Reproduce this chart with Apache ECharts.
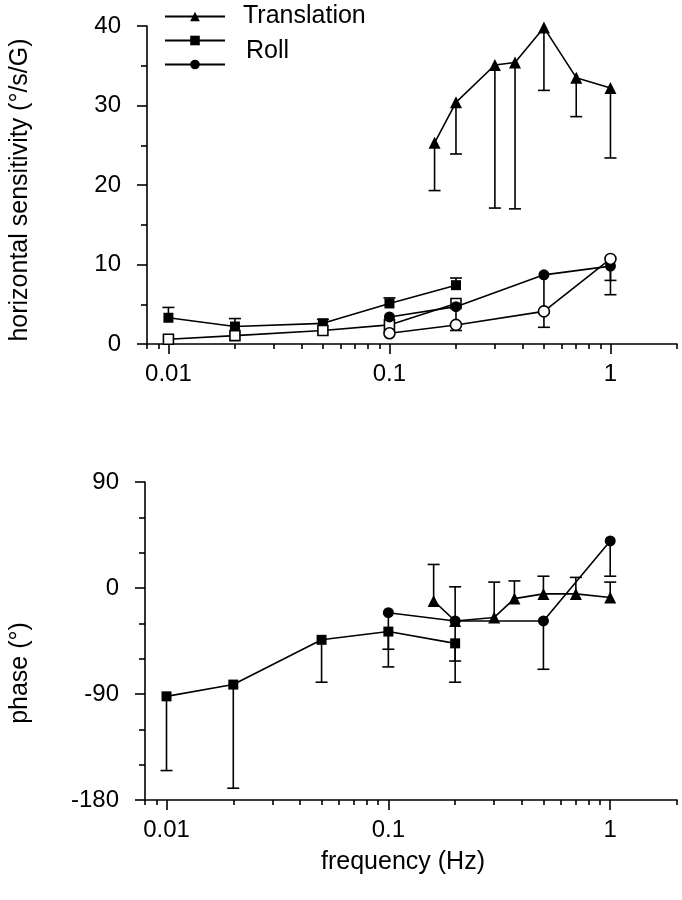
<!DOCTYPE html>
<html><head><meta charset="utf-8">
<script src="https://cdn.jsdelivr.net/npm/echarts@6/dist/echarts.min.js"></script>
<style>html,body{margin:0;padding:0;background:#fff}#c{width:682px;height:900px}</style>
</head><body><div id="c"></div>
<script>
// ---- axis ticks ----
const xTickValues = [0.01, 0.1, 1];
const xTickLabels = ['0.01', '0.1', '1'];
const xMinorTicks = [0.008, 0.009, 0.02, 0.03, 0.04, 0.05, 0.06, 0.07, 0.08, 0.09,
  0.2, 0.3, 0.4, 0.5, 0.6, 0.7, 0.8, 0.9, 2];
const xMin = 0.008, xMax = 2;

// ---- top panel: horizontal sensitivity ----
const transFreq = [0.16, 0.2, 0.3, 0.37, 0.5, 0.7, 1];
const transGain = [25.3, 30.4, 35.1, 35.4, 39.8, 33.5, 32.2];
const transGainLow = [19.3, 23.9, 17.1, 17.0, 31.9, 28.6, 23.4];

const rollFreq = [0.01, 0.02, 0.05, 0.1, 0.2];
const rollGain = [3.3, 2.2, 2.6, 5.1, 7.4];
const rollGainHigh = [4.6, 3.2, 3.1, 5.8, 8.3];
const rollOpenGain = [0.6, 1.05, 1.7, 2.4, 5.1];

const circFreq = [0.1, 0.2, 0.5, 1];
const circGain = [3.4, 4.7, 8.7, 9.8];
const circGainLow = [null, 1.7, 2.1, 6.2];
const circOpenGain = [1.35, 2.4, 4.1, 10.7];
const circOpenGainLow = [null, null, null, 8.0];

// ---- bottom panel: phase ----
const transPhase = [-11, -28, -25, -9, -5, -5, -8];
const transPhaseHigh = [20, 1, 5, 6, 10, 9, 5];
const rollPhase = [-92, -82, -44, -37, -47];
const rollPhaseLow = [-155, -170, -80, -52, -80];
const circPhase = [-21, -28, -28, 40];
const circPhaseLow = [-67, -62, -69, 10];

const FONT = '"Liberation Sans", Arial, Helvetica, sans-serif';
const BLACK = '#000';
const LW = 1.6;
const L = Math.log10;

function pts(f, v) { return f.map((x, i) => [L(x), v[i]]); }
function errs(f, v, lo, hi) {
  const out = [];
  f.forEach((x, i) => {
    const l = lo ? lo[i] : null, h = hi ? hi[i] : null;
    if (l == null && h == null) return;
    out.push([L(x), l == null ? v[i] : l, h == null ? v[i] : h, l == null ? 0 : 1, h == null ? 0 : 1]);
  });
  return out;
}
function errRender(params, api) {
  const x = api.value(0);
  const p1 = api.coord([x, api.value(1)]), p2 = api.coord([x, api.value(2)]);
  const w = 6, st = { stroke: BLACK, lineWidth: LW };
  const ch = [{ type: 'line', shape: { x1: p1[0], y1: p1[1], x2: p2[0], y2: p2[1] }, style: st }];
  if (api.value(3)) ch.push({ type: 'line', shape: { x1: p1[0] - w, y1: p1[1], x2: p1[0] + w, y2: p1[1] }, style: st });
  if (api.value(4)) ch.push({ type: 'line', shape: { x1: p2[0] - w, y1: p2[1], x2: p2[0] + w, y2: p2[1] }, style: st });
  return { type: 'group', children: ch };
}

function xMajor(g, withName) {
  const a = {
    type: 'value', gridIndex: g, min: L(xMin), max: L(xMax), position: 'bottom',
    axisLine: { show: true, onZero: false, lineStyle: { color: BLACK, width: LW } },
    axisTick: { show: true, customValues: xTickValues.map(L), length: 10, lineStyle: { color: BLACK, width: LW } },
    axisLabel: {
      customValues: xTickValues.map(L), margin: 18, fontSize: 24, color: BLACK, fontFamily: FONT,
      formatter: v => { const i = xTickValues.findIndex(t => Math.abs(L(t) - v) < 1e-6); return i >= 0 ? xTickLabels[i] : ''; }
    },
    splitLine: { show: false }
  };
  if (withName) {
    a.name = 'frequency (Hz)'; a.nameLocation = 'middle'; a.nameGap = 50;
    a.nameTextStyle = { fontSize: 25, color: BLACK, fontFamily: FONT, padding: [0, 16, 0, 0] };
  }
  return a;
}
function xMinor(g) {
  return {
    type: 'value', gridIndex: g, min: L(xMin), max: L(xMax), position: 'bottom',
    axisLine: { show: false, onZero: false },
    axisTick: { show: true, customValues: xMinorTicks.map(L), length: 5, lineStyle: { color: BLACK, width: LW } },
    axisLabel: { show: false }, splitLine: { show: false }
  };
}
function yAx(g, min, max, interval, split, name, gap, pad) {
  return {
    type: 'value', gridIndex: g, min: min, max: max, interval: interval, position: 'left',
    axisLine: { show: true, onZero: false, lineStyle: { color: BLACK, width: LW } },
    axisTick: { show: true, length: 10, lineStyle: { color: BLACK, width: LW } },
    minorTick: { show: true, splitNumber: split, length: 6, lineStyle: { color: BLACK, width: LW } },
    axisLabel: { margin: 26, fontSize: 24, color: BLACK, fontFamily: FONT },
    splitLine: { show: false },
    name: name, nameLocation: 'middle', nameGap: gap,
    nameTextStyle: { fontSize: 25, color: BLACK, fontFamily: FONT, padding: pad }
  };
}
function lineS(name, xi, yi, data, symbol, size, open) {
  return {
    type: 'line', name: name, xAxisIndex: xi, yAxisIndex: yi, data: data,
    symbol: symbol, symbolSize: size, showAllSymbol: true, z: 3,
    lineStyle: { color: BLACK, width: LW },
    itemStyle: open ? { color: '#fff', borderColor: BLACK, borderWidth: LW } : { color: BLACK, borderColor: BLACK, borderWidth: 0 },
    emphasis: { disabled: true }
  };
}
function errS(xi, yi, data) {
  return { type: 'custom', xAxisIndex: xi, yAxisIndex: yi, data: data, renderItem: errRender,
    encode: { x: 0, y: [1, 2] }, z: 2, silent: true };
}

const option = {
  animation: false,
  backgroundColor: '#fff',
  grid: [
    { left: 144, top: 26, width: 533, height: 318 },
    { left: 144, top: 482, width: 533, height: 318 }
  ],
  xAxis: [xMajor(0, false), xMinor(0), xMajor(1, true), xMinor(1)],
  yAxis: [
    yAx(0, 0, 40, 10, 2, 'horizontal sensitivity (°/s/G)', 114, [0, 10, 0, 0]),
    yAx(1, -180, 90, 90, 3, 'phase (°)', 112, [0, 64, 0, 0])
  ],
  legend: {
    orient: 'vertical', left: 159, top: -1, itemWidth: 60, itemHeight: 12, itemGap: -12,
    selectedMode: false,
    textStyle: {
      fontSize: 25, color: BLACK, fontFamily: FONT, padding: [0, 0, 0, 13], lineHeight: 25,
      rich: { r: { fontSize: 25, fontFamily: FONT, color: BLACK, padding: [22, 0, 0, 3], lineHeight: 25 } }
    },
    formatter: n => n === 'Roll' ? '{r|' + n + '}' : n,
    data: [
      { name: 'Translation' },
      { name: 'Roll' },
      { name: ' ' }
    ]
  },
  series: [
    errS(0, 0, errs(transFreq, transGain, transGainLow, null)),
    errS(0, 0, errs(rollFreq, rollGain, null, rollGainHigh)),
    errS(0, 0, errs(circFreq, circGain, circGainLow, null)),
    errS(0, 0, errs(circFreq, circOpenGain, circOpenGainLow, null)),
    lineS('Translation', 0, 0, pts(transFreq, transGain), 'triangle', 12, false),
    lineS('Roll', 0, 0, pts(rollFreq, rollGain), 'rect', 10, false),
    lineS('Roll open', 0, 0, pts(rollFreq, rollOpenGain), 'rect', 10, true),
    lineS(' ', 0, 0, pts(circFreq, circGain), 'circle', 11, false),
    lineS('circle open', 0, 0, pts(circFreq, circOpenGain), 'circle', 11, true),

    errS(2, 1, errs(transFreq, transPhase, null, transPhaseHigh)),
    errS(2, 1, errs(rollFreq, rollPhase, rollPhaseLow, null)),
    errS(2, 1, errs(circFreq, circPhase, circPhaseLow, null)),
    lineS('Translation', 2, 1, pts(transFreq, transPhase), 'triangle', 12, false),
    lineS('Roll', 2, 1, pts(rollFreq, rollPhase), 'rect', 10, false),
    lineS(' ', 2, 1, pts(circFreq, circPhase), 'circle', 11, false)
  ]
};
const chart = echarts.init(document.getElementById('c'), null, { renderer: 'canvas' });
chart.setOption(option);
</script>
</body></html>
